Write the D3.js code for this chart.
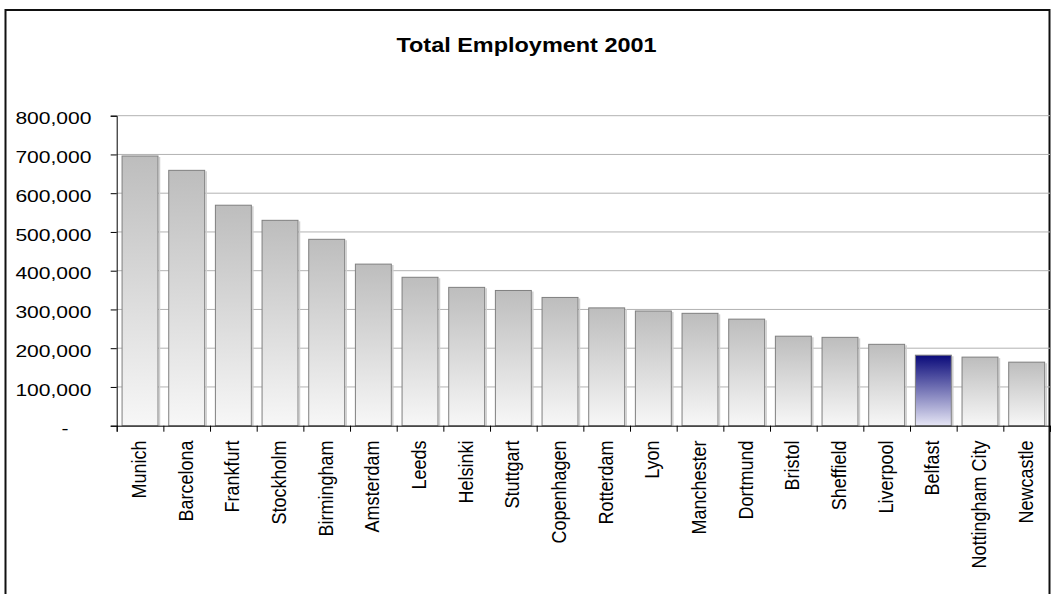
<!DOCTYPE html>
<html>
<head>
<meta charset="utf-8">
<script src="https://cdn.jsdelivr.net/npm/d3@7"></script>
<style>
  html, body { margin: 0; padding: 0; background: #fff; }
  svg { display: block; font-family: Arial, "Liberation Sans", sans-serif; }
</style>
</head>
<body>
<div id="chart"></div>
<script>
// Total employment by city, 2001
const categories = ["Munich", "Barcelona", "Frankfurt", "Stockholm", "Birmingham", "Amsterdam",
  "Leeds", "Helsinki", "Stuttgart", "Copenhagen", "Rotterdam", "Lyon", "Manchester",
  "Dortmund", "Bristol", "Sheffield", "Liverpool", "Belfast", "Nottingham City", "Newcastle"];
const employment = [696000, 659000, 569000, 530000, 481000, 417000, 383000, 357000, 349000,
  331000, 304000, 296000, 290000, 275000, 231000, 228000, 210000, 182000, 177000, 164000];
const yTicks = [0, 100000, 200000, 300000, 400000, 500000, 600000, 700000, 800000];
const highlighted = "Belfast";
const title = "Total Employment 2001";

const W = 1051, H = 594;
const plot = { left: 116.7, right: 1050, top: 115.7, bottom: 425.7 };

const svg = d3.select("#chart").append("svg").attr("width", W).attr("height", H);

// Gradients for ordinary and highlighted bars
const defs = svg.append("defs");
const gGrey = defs.append("linearGradient").attr("id", "barGrey").attr("x1", 0).attr("y1", 0).attr("x2", 0).attr("y2", 1);
gGrey.append("stop").attr("offset", "0%").attr("stop-color", "#bdbdbd");
gGrey.append("stop").attr("offset", "100%").attr("stop-color", "#f7f7f7");
const gBlue = defs.append("linearGradient").attr("id", "barBlue").attr("x1", 0).attr("y1", 0).attr("x2", 0).attr("y2", 1);
gBlue.append("stop").attr("offset", "0%").attr("stop-color", "#0a0a7a");
gBlue.append("stop").attr("offset", "100%").attr("stop-color", "#e6e6f5");

// Chart frame
svg.append("rect").attr("x", 5.5).attr("y", 10).attr("width", 1044).attr("height", 620)
  .attr("fill", "#fff").attr("stroke", "#111").attr("stroke-width", 2);

// Title
svg.append("text")
  .attr("transform", "translate(526.5,52.3) scale(1.15,1)")
  .attr("text-anchor", "middle")
  .attr("font-size", 20.4).attr("font-weight", "bold").attr("fill", "#000")
  .text(title);

const x = d3.scaleBand().domain(categories).range([plot.left, plot.right])
  .paddingInner(0.23).paddingOuter(0.115);
const y = d3.scaleLinear().domain([0, 800000]).range([plot.bottom, plot.top]);

// Horizontal gridlines
svg.append("g").selectAll("line").data(yTicks.filter(d => d > 0)).join("line")
  .attr("x1", plot.left).attr("x2", plot.right)
  .attr("y1", d => y(d)).attr("y2", d => y(d))
  .attr("stroke", "#b2b2b2").attr("stroke-width", 1);

// Bars with a soft edge shadow on the right
const bars = svg.append("g");
bars.selectAll("line.shadow").data(categories).join("line").attr("class", "shadow")
  .attr("x1", d => x(d) + x.bandwidth() + 1.5).attr("x2", d => x(d) + x.bandwidth() + 1.5)
  .attr("y1", (d, i) => y(employment[i]) + 1).attr("y2", plot.bottom)
  .attr("stroke", "#cfcfcf").attr("stroke-width", 1.5);
bars.selectAll("rect").data(categories).join("rect")
  .attr("x", d => x(d))
  .attr("y", (d, i) => y(employment[i]))
  .attr("width", x.bandwidth())
  .attr("height", (d, i) => plot.bottom - y(employment[i]))
  .attr("fill", d => d === highlighted ? "url(#barBlue)" : "url(#barGrey)")
  .attr("stroke", "#7f7f7f").attr("stroke-width", 1);

// Y axis: ticks from the library, labels drawn wide like the original
const yAxis = d3.axisLeft(y).tickValues(yTicks).tickSize(6).tickFormat("");
const gy = svg.append("g").attr("transform", `translate(${plot.left},0)`).call(yAxis);
gy.select(".domain").attr("stroke", "#000");
gy.selectAll(".tick line").attr("stroke", "#000");
const fmt = d3.format(",");
svg.append("g").selectAll("text").data(yTicks).join("text")
  .attr("transform", d => `translate(${d === 0 ? 68.5 : 91.5},${y(d) + 8.6}) scale(1.24,1)`)
  .attr("text-anchor", "end")
  .attr("font-size", 17).attr("fill", "#000")
  .text(d => d === 0 ? "-" : fmt(d));

// X axis line and tick marks between categories
const step = x.step();
const boundaries = d3.range(categories.length + 1).map(i => plot.left + i * step);
const xEdge = d3.scaleLinear().domain([0, categories.length]).range([plot.left, plot.right]);
const xAxis = d3.axisBottom(xEdge).tickValues(d3.range(categories.length + 1)).tickSize(6).tickFormat("");
const gx = svg.append("g").attr("transform", `translate(0,${plot.bottom})`).call(xAxis);
gx.select(".domain").attr("stroke", "#000");
gx.selectAll(".tick line").attr("stroke", "#000");

// Rotated category labels
svg.append("g").selectAll("text").data(categories).join("text")
  .attr("transform", d => `translate(${x(d) + x.bandwidth() / 2 - 1},440.5) scale(1.1,1) rotate(-90)`)
  .attr("text-anchor", "end")
  .attr("dy", "0.35em")
  .attr("font-size", 18).attr("fill", "#000")
  .text(d => d);
</script>
</body>
</html>
